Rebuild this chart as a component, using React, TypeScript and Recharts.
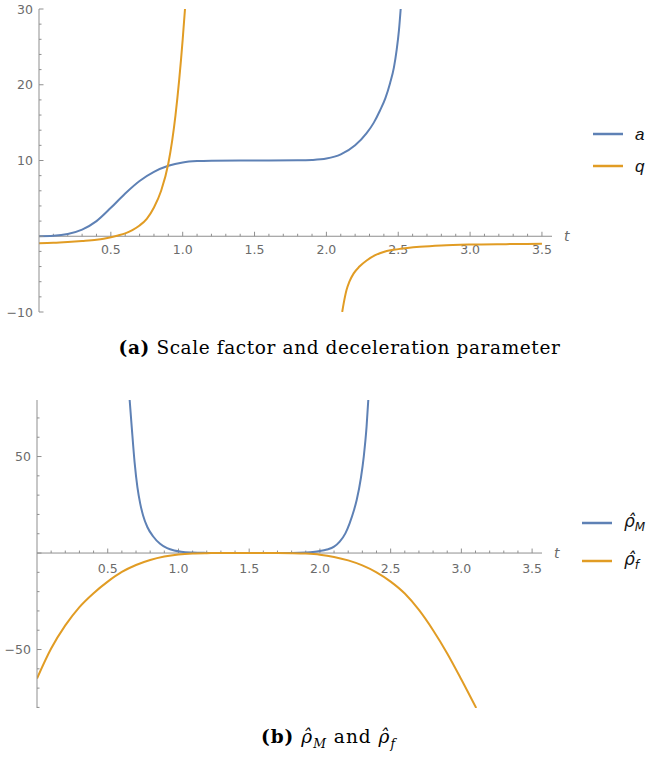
import React from "react";
import { LineChart, Line, XAxis, YAxis, ReferenceLine, Legend } from "recharts";

// (a) scale factor a(t)
const aT = [0, 0.1, 0.2, 0.3, 0.4, 0.5, 0.6, 0.7, 0.8, 0.9, 1.0, 1.1, 1.2, 1.4, 1.6, 1.8, 1.9, 2.0, 2.1, 2.2, 2.28, 2.33, 2.373, 2.41, 2.443, 2.47, 2.489, 2.505, 2.517];
const aVals = [0, 0.06, 0.3, 0.88, 2.0, 3.75, 5.65, 7.3, 8.5, 9.3, 9.75, 9.93, 9.98, 10, 10, 10.02, 10.07, 10.25, 10.8, 12.0, 13.6, 15.0, 16.6, 18.2, 20.2, 22.3, 24.6, 27.2, 30];

// (a) deceleration parameter q(t), pole between the two branches
const qT = [0, 0.1, 0.2, 0.3, 0.4, 0.45, 0.5, 0.55, 0.6, 0.65, 0.7, 0.75, 0.8, 0.85, 0.9, 0.95, 1.0, 1.016, 1.5, 2.11, 2.12, 2.14, 2.16, 2.19, 2.23, 2.28, 2.34, 2.42, 2.5, 2.65, 2.8, 3.0, 3.25, 3.5];
const qVals = [-0.93, -0.87, -0.76, -0.62, -0.45, -0.32, -0.14, 0.1, 0.38, 0.82, 1.42, 2.3, 3.8, 6.0, 9.6, 16, 26, 30, null, -10, -8.9, -7.1, -6.0, -4.9, -4.0, -3.2, -2.5, -1.95, -1.7, -1.4, -1.22, -1.1, -1.04, -1.0];

// (b) rho_M and rho_f
const rhoMT = [0.655, 0.67, 0.69, 0.71, 0.73, 0.75, 0.78, 0.82, 0.87, 0.92, 0.97, 1.02, 1.1, 1.2, 1.3, 1.5, 1.7, 1.8, 1.9, 1.95, 2.0, 2.05, 2.1, 2.14, 2.18, 2.21, 2.24, 2.26, 2.29, 2.31, 2.33, 2.342];
const rhoMVals = [79.3, 65, 47, 34, 25.5, 19.5, 13.5, 8.7, 4.8, 2.5, 1.3, 0.65, 0.25, 0.08, 0.02, 0, 0.02, 0.06, 0.3, 0.55, 1.0, 1.8, 3.3, 5.9, 10.2, 15.4, 22, 27.5, 39, 50, 65.6, 79.3];
const rhoFT = [0, 0.1, 0.2, 0.3, 0.4, 0.5, 0.6, 0.7, 0.8, 0.9, 1.0, 1.1, 1.2, 1.3, 1.5, 1.7, 1.8, 1.9, 2.0, 2.1, 2.2, 2.3, 2.4, 2.5, 2.6, 2.7, 2.8, 2.9, 3.0, 3.105];
const rhoFVals = [-65, -49.5, -37.5, -28, -20.8, -14.8, -9.8, -6.2, -3.6, -1.8, -0.7, -0.2, -0.05, 0, 0, 0, -0.08, -0.3, -0.85, -2.0, -3.8, -6.4, -10, -14.8, -21, -29.5, -40, -52, -65.5, -80.3];

// ticks
const xMajor = [0.5, 1.0, 1.5, 2.0, 2.5, 3.0, 3.5];
const xMinor = [0.1, 0.2, 0.3, 0.4, 0.6, 0.7, 0.8, 0.9, 1.1, 1.2, 1.3, 1.4, 1.6, 1.7, 1.8, 1.9, 2.1, 2.2, 2.3, 2.4, 2.6, 2.7, 2.8, 2.9, 3.1, 3.2, 3.3, 3.4];
const yTicksA = [-10, -8, -6, -4, -2, 0, 2, 4, 6, 8, 10, 12, 14, 16, 18, 20, 22, 24, 26, 28, 30];
const yLabelsA = [-10, 10, 20, 30];
const yTicksB = [-80, -70, -60, -50, -40, -30, -20, -10, 0, 10, 20, 30, 40, 50, 60, 70];
const yLabelsB = [-50, 50];

const BLUE = "#5E81B5";
const ORANGE = "#E19C24";
const AXIS = "#8f8f8f";
const LABEL = "#6b6b6b";
const TICK_FONT = "DejaVu Sans";

const toPoints = (ts: number[], vs: (number | null)[]) => ts.map((t, i) => ({ t, v: vs[i] }));

const fmt = (v: number) => (v < 0 ? "\u2212" + Math.abs(v) : String(v));

function makeYTick(labels: number[], majorEvery: number) {
  return (props: any) => {
    const { x, y, payload } = props;
    const v = payload.value;
    const major = v % majorEvery === 0;
    return (
      <g>
        <line x1={x} x2={x + (major ? 4.5 : 2.5)} y1={y} y2={y} stroke={AXIS} />
        {labels.includes(v) && (
          <text x={x - 6} y={y} dy="0.36em" textAnchor="end" fill={LABEL} fontSize={12.5} fontFamily={TICK_FONT}>
            {fmt(v)}
          </text>
        )}
      </g>
    );
  };
}

function makeXAxis(domainMax: number, labelDy: number) {
  return (props: any) => {
    const { x1, x2, y1 } = props;
    const left = Math.min(x1, x2);
    const right = Math.max(x1, x2);
    const px = (t: number) => left + (t / domainMax) * (right - left);
    return (
      <g>
        <line x1={left} x2={right} y1={y1} y2={y1} stroke={AXIS} />
        {xMinor.map((t) => (
          <line key={"m" + t} x1={px(t)} x2={px(t)} y1={y1} y2={y1 - 2.5} stroke={AXIS} />
        ))}
        {xMajor.map((t) => (
          <line key={"M" + t} x1={px(t)} x2={px(t)} y1={y1} y2={y1 - 4.5} stroke={AXIS} />
        ))}
        {xMajor.map((t) => (
          <text key={"L" + t} x={px(t)} y={y1 + labelDy} textAnchor="middle" fill={LABEL} fontSize={12.5} fontFamily={TICK_FONT}>
            {t.toFixed(1)}
          </text>
        ))}
        <text x={right + 12} y={y1} dy="0.36em" fill={LABEL} fontSize={14} fontStyle="italic" fontFamily={TICK_FONT}>
          t
        </text>
      </g>
    );
  };
}

const legendOrder = ["a", "q", "rho_M", "rho_f"];
const legendLabels: Record<string, React.ReactNode> = {
  a: "a",
  q: "q",
  rho_M: (
    <span style={{ fontFamily: "DejaVu Sans" }}>
      ρ&#770;<sub style={{ fontSize: 12 }}>M</sub>
    </span>
  ),
  rho_f: (
    <span style={{ fontFamily: "DejaVu Sans" }}>
      ρ&#770;<sub style={{ fontSize: 12 }}>f</sub>
    </span>
  ),
};

function makeLegend(rowHeight: number) {
  return (props: any) => {
    const items = [...(props.payload || [])].sort(
      (p: any, r: any) => legendOrder.indexOf(p.value) - legendOrder.indexOf(r.value)
    );
    return (
      <div>
        {items.map((p: any) => (
          <div key={p.value} style={{ display: "flex", alignItems: "center", height: rowHeight }}>
            <svg width={30} height={4}>
              <line x1={0} x2={30} y1={2} y2={2} stroke={p.color} strokeWidth={2.5} />
            </svg>
            <span style={{ marginLeft: 12, fontStyle: "italic", fontSize: 17, fontFamily: "Liberation Sans", color: "#111", lineHeight: 1 }}>
              {legendLabels[p.value]}
            </span>
          </div>
        ))}
      </div>
    );
  };
}

function TopChart() {
  return (
    <LineChart width={647} height={330} margin={{ top: 9, right: 95, bottom: 18, left: 0 }}>
      <XAxis type="number" dataKey="t" domain={[0, 3.57]} hide allowDataOverflow />
      <YAxis
        type="number"
        domain={[-10, 30]}
        allowDataOverflow
        width={39}
        ticks={yTicksA}
        interval={0}
        tickSize={0}
        tickMargin={0}
        tickLine={false}
        axisLine={{ stroke: AXIS }}
        tick={makeYTick(yLabelsA, 10)}
      />
      <ReferenceLine y={0} shape={makeXAxis(3.57, 18)} />
      <Line data={toPoints(aT, aVals)} dataKey="v" name="a" type="monotone" stroke={BLUE} strokeWidth={2} dot={false} activeDot={false} isAnimationActive={false} />
      <Line data={toPoints(qT, qVals)} dataKey="v" name="q" type="monotone" stroke={ORANGE} strokeWidth={2} dot={false} activeDot={false} isAnimationActive={false} />
      <Legend layout="vertical" align="center" verticalAlign="middle" content={makeLegend(32)} wrapperStyle={{ left: 593, top: 118, width: 54 }} />
    </LineChart>
  );
}

function BottomChart() {
  return (
    <LineChart width={647} height={340} margin={{ top: 15, right: 105, bottom: 17, left: 0 }}>
      <XAxis type="number" dataKey="t" domain={[0, 3.57]} hide allowDataOverflow />
      <YAxis
        type="number"
        domain={[-80.3, 79.3]}
        allowDataOverflow
        width={37}
        ticks={yTicksB}
        interval={0}
        tickSize={0}
        tickMargin={0}
        tickLine={false}
        axisLine={{ stroke: AXIS }}
        tick={makeYTick(yLabelsB, 50)}
      />
      <ReferenceLine y={0} shape={makeXAxis(3.57, 20)} />
      <Line data={toPoints(rhoMT, rhoMVals)} dataKey="v" name="rho_M" type="monotone" stroke={BLUE} strokeWidth={2} dot={false} activeDot={false} isAnimationActive={false} />
      <Line data={toPoints(rhoFT, rhoFVals)} dataKey="v" name="rho_f" type="monotone" stroke={ORANGE} strokeWidth={2} dot={false} activeDot={false} isAnimationActive={false} />
      <Legend layout="vertical" align="center" verticalAlign="middle" content={makeLegend(38)} wrapperStyle={{ left: 582, top: 119, width: 65 }} />
    </LineChart>
  );
}

const captionStyle: React.CSSProperties = {
  position: "absolute",
  left: 0,
  width: 647,
  textAlign: "center",
  fontFamily: "DejaVu Serif",
  fontSize: 18.5,
  letterSpacing: 0.6,
  lineHeight: "20px",
  color: "#000",
  boxSizing: "border-box",
};

export default function App() {
  return (
    <div style={{ position: "absolute", left: 0, top: 0, width: 647, height: 758, background: "#fff", overflow: "hidden" }}>
      <div style={{ position: "absolute", left: 0, top: 0 }}>
        <TopChart />
      </div>
      <div style={{ ...captionStyle, top: 338, paddingLeft: 32 }}>
        <b>(a)</b> Scale factor and deceleration parameter
      </div>
      <div style={{ position: "absolute", left: 0, top: 385 }}>
        <BottomChart />
      </div>
      <div style={{ ...captionStyle, top: 727, paddingLeft: 10, letterSpacing: 1 }}>
        <b>(b)</b> <i>ρ&#770;</i>
        <sub style={{ fontSize: 12.5 }}>
          <i>M</i>
        </sub>{" "}
        and <i>ρ&#770;</i>
        <sub style={{ fontSize: 12.5 }}>
          <i>f</i>
        </sub>
      </div>
    </div>
  );
}
